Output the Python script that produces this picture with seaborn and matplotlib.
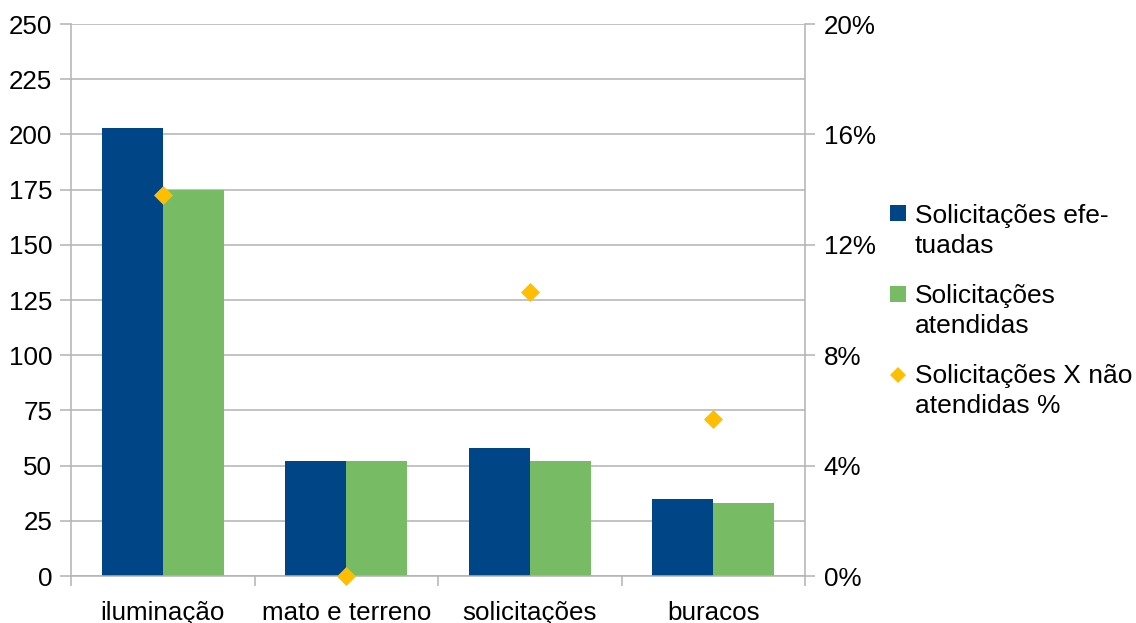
import matplotlib
matplotlib.use("Agg")
import matplotlib.pyplot as plt
import numpy as np
import pandas as pd
import seaborn as sns
from matplotlib.lines import Line2D
from matplotlib.ticker import FixedLocator, FuncFormatter

# Dados do gráfico
categorias = ["iluminação", "mato e terreno", "solicitações", "buracos"]
efetuadas = [203, 52, 58, 35]
atendidas = [175, 52, 52, 33]
nao_atendidas_pct = [13.8, 0.0, 10.3, 5.7]

series = ["Solicitações efetuadas", "Solicitações atendidas"]
legenda_textos = ["Solicitações efe-\ntuadas", "Solicitações\natendidas",
                  "Solicitações X não\natendidas %"]
cores = ["#004586", "#77BC65", "#FFBF00"]

ticks_esq = list(range(0, 251, 25))
ticks_dir = [0, 4, 8, 12, 16, 20]

sns.set_theme(style="white")
plt.rcParams["font.family"] = ["Liberation Sans", "DejaVu Sans"]

FS = 18.7
FS_LEG = 19
CINZA = "#b3b3b3"

df = pd.DataFrame({
    "categoria": categorias * 2,
    "valor": efetuadas + atendidas,
    "serie": [series[0]] * len(categorias) + [series[1]] * len(categorias),
})
df_pct = pd.DataFrame({"categoria": categorias, "pct": nao_atendidas_pct})

W, H = 1136, 623
fig = plt.figure(figsize=(W / 100, H / 100), dpi=100)
ax = fig.add_axes([71 / W, 47 / H, 734 / W, 552 / H])

sns.barplot(data=df, x="categoria", y="valor", hue="serie", palette=cores[:2],
            width=0.665, saturation=1, linewidth=0, ax=ax, legend=False)

ax.set_xlim(-0.5, len(categorias) - 0.5)
ax.set_ylim(0, 250)
ax.set_xlabel("")
ax.set_ylabel("")
ax.yaxis.set_major_locator(FixedLocator(ticks_esq))
ax.yaxis.grid(True, color=CINZA, linewidth=1.1)
ax.xaxis.grid(False)
ax.set_axisbelow(True)

ax.set_xticks(range(len(categorias)))
ax.set_xticklabels(categorias)
ax.set_xticks(np.arange(-0.5, len(categorias), 1.0), minor=True)
ax.tick_params(axis="x", which="major", length=0, pad=18, labelsize=FS, labelcolor="black")
ax.tick_params(axis="x", which="minor", length=7.5, width=1.1, color=CINZA, bottom=True)
ax.tick_params(axis="y", which="major", left=True, length=8, width=1.1, color=CINZA,
               pad=5.5, labelsize=FS, labelcolor="black")

for lado in ["left", "right", "bottom"]:
    ax.spines[lado].set_visible(True)
    ax.spines[lado].set_color(CINZA)
    ax.spines[lado].set_linewidth(1.1)
ax.spines["top"].set_visible(False)

# Eixo secundário com a porcentagem não atendida
ax2 = ax.twinx()
sns.stripplot(data=df_pct, x="categoria", y="pct", color=cores[2], marker="D",
              size=9.7, linewidth=0, jitter=False, ax=ax2, clip_on=False, zorder=5)
ax2.set_ylim(0, 20)
ax2.set_xlim(-0.5, len(categorias) - 0.5)
ax2.set_ylabel("")
ax2.set_xlabel("")
ax2.yaxis.set_major_locator(FixedLocator(ticks_dir))
ax2.yaxis.set_major_formatter(FuncFormatter(lambda v, _: f"{v:.0f}%"))
ax2.tick_params(axis="y", which="major", right=True, length=7.5, width=1.1, color=CINZA,
                pad=6, labelsize=FS, labelcolor="black")
ax2.grid(False)
for lado in ax2.spines:
    ax2.spines[lado].set_visible(False)
for c in ax2.collections:
    c.set_clip_on(False)

# Legenda: marcador alinhado à primeira linha de cada rótulo
marcadores = ["s", "s", "D"]
tamanhos = [11.5, 11.5, 8.6]
y_marc = [213, 294, 375]
y_base_ultima = [253, 333, 413]
for txt, cor, mk, ms, ym, yb in zip(legenda_textos, cores, marcadores, tamanhos, y_marc, y_base_ultima):
    fig.add_artist(Line2D([898 / W], [1 - ym / H], marker=mk, markersize=ms, color=cor,
                          linestyle="none", markeredgewidth=0, transform=fig.transFigure))
    fig.text(915 / W, 1 - yb / H, txt, fontsize=FS_LEG, va="baseline", ha="left",
             color="black", linespacing=1.33)

fig.savefig("out.png", dpi=100)
